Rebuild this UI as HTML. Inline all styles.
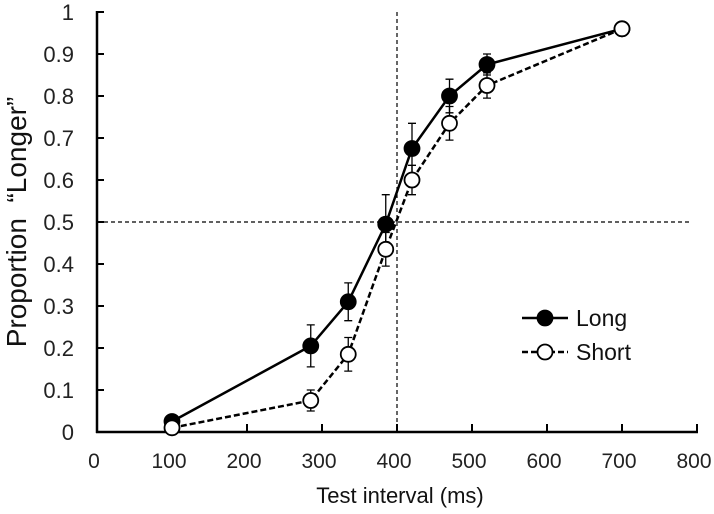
<!DOCTYPE html>
<html><head><meta charset="utf-8"><style>
html,body{margin:0;padding:0;background:#fff;}
svg{display:block;font-family:"Liberation Sans","Noto Sans CJK JP",sans-serif;}
</style></head><body>
<svg id="chart" width="714" height="514"></svg>
<script>
const xValues=[100,285,335,385,420,470,520,700];
const longValues=[0.025,0.205,0.31,0.495,0.675,0.80,0.875,0.96];
const longErrors=[0.015,0.05,0.045,0.07,0.06,0.04,0.025,0];
const shortValues=[0.01,0.075,0.185,0.435,0.60,0.735,0.825,0.96];
const shortErrors=[0.01,0.025,0.04,0.04,0.035,0.04,0.03,0];
const xTicks=[0,100,200,300,400,500,600,700,800];
const yTicks=[0,0.1,0.2,0.3,0.4,0.5,0.6,0.7,0.8,0.9,1];
const yTickLabels=["0","0.1","0.2","0.3","0.4","0.5","0.6","0.7","0.8","0.9","1"];

const NS="http://www.w3.org/2000/svg";
const svg=document.getElementById('chart');
const X=v=>97+v*0.75;
const Y=v=>432-v*420;
function mk(tag,attrs,parent){const e=document.createElementNS(NS,tag);for(const k in attrs)e.setAttribute(k,attrs[k]);(parent||svg).appendChild(e);return e;}

let e=mk('line',{x1:X(400),x2:X(400),y1:Y(1),y2:Y(0),stroke:'#000','stroke-width':1.2,'stroke-dasharray':'4,3'});


e=mk('line',{x1:X(0),x2:692,y1:Y(0.5),y2:Y(0.5),stroke:'#000','stroke-width':1.2,'stroke-dasharray':'4,3'});



e=mk('line',{x1:X(0),x2:X(0),y1:Y(1)-1,y2:Y(0)+1,stroke:'#000','stroke-width':2.5});


e=mk('line',{x1:X(0)-1,x2:X(800)+1,y1:Y(0),y2:Y(0),stroke:'#000','stroke-width':2.5});



yTicks.forEach((t,i)=>{
  let l=mk('line',{x1:X(0),x2:X(0)+7,y1:Y(t),y2:Y(t),stroke:'#000','stroke-width':2});
  
  
  let tx=mk('text',{x:X(0)-23,y:Y(t)+8,'text-anchor':'end','font-size':22,fill:'#222'});
  tx.textContent=yTickLabels[i];
  
  
});
xTicks.forEach(t=>{
  let l=mk('line',{x1:X(t),x2:X(t),y1:Y(0),y2:Y(0)-8,stroke:'#000','stroke-width':2});
  
  
  let tx=mk('text',{x:X(t)-3,y:Y(0)+36,'text-anchor':'middle','font-size':21,fill:'#222'});
  tx.textContent=String(t);
  
  
});

e=mk('text',{x:400,y:503,'text-anchor':'middle','font-size':22,fill:'#111'});
e.textContent='Test interval (ms)';


e=mk('text',{x:0,y:0,'text-anchor':'middle','font-size':28,fill:'#111',transform:'translate(26,222) rotate(-90)'});
e.textContent='Proportion\u00a0\u00a0\u201cLonger\u201d';



function series(vals,errs,dash,fill,name){
  const g=mk('g',{});
  
  
  vals.forEach((v,i)=>{
    if(errs[i]>0){
      const x=X(xValues[i]);
      let b=mk('path',{d:`M${x},${Y(v-errs[i])}V${Y(v+errs[i])}M${x-4},${Y(v-errs[i])}h8M${x-4},${Y(v+errs[i])}h8`,stroke:'#000','stroke-width':1.3,fill:'none'},g);
      
      
    }
  });
  const p=mk('polyline',{points:vals.map((v,i)=>X(xValues[i])+','+Y(v)).join(' '),fill:'none',stroke:'#000','stroke-width':2.5,'stroke-dasharray':dash},g);
  
  
  vals.forEach((v,i)=>{
    const c=mk('circle',{cx:X(xValues[i]),cy:Y(v),r:7.5,fill:fill,stroke:'#000','stroke-width':1.8},g);
    
    
  });
}
series(longValues,longErrors,'none','#000','long');
series(shortValues,shortErrors,'6,3','#fff','short');

function legend(y,dash,fill,label,name){
  const g=mk('g',{});
  
  
  mk('line',{x1:522,x2:568,y1:y,y2:y,stroke:'#000','stroke-width':2.5,'stroke-dasharray':dash},g);
  mk('circle',{cx:545,cy:y,r:7.5,fill:fill,stroke:'#000','stroke-width':1.8},g);
  const t=mk('text',{x:576,y:y+8,'font-size':23,fill:'#111'},g);
  t.textContent=label;
}
legend(318,'none','#000','Long','long');
legend(352,'6,3','#fff','Short','short');
</script>
</body></html>
